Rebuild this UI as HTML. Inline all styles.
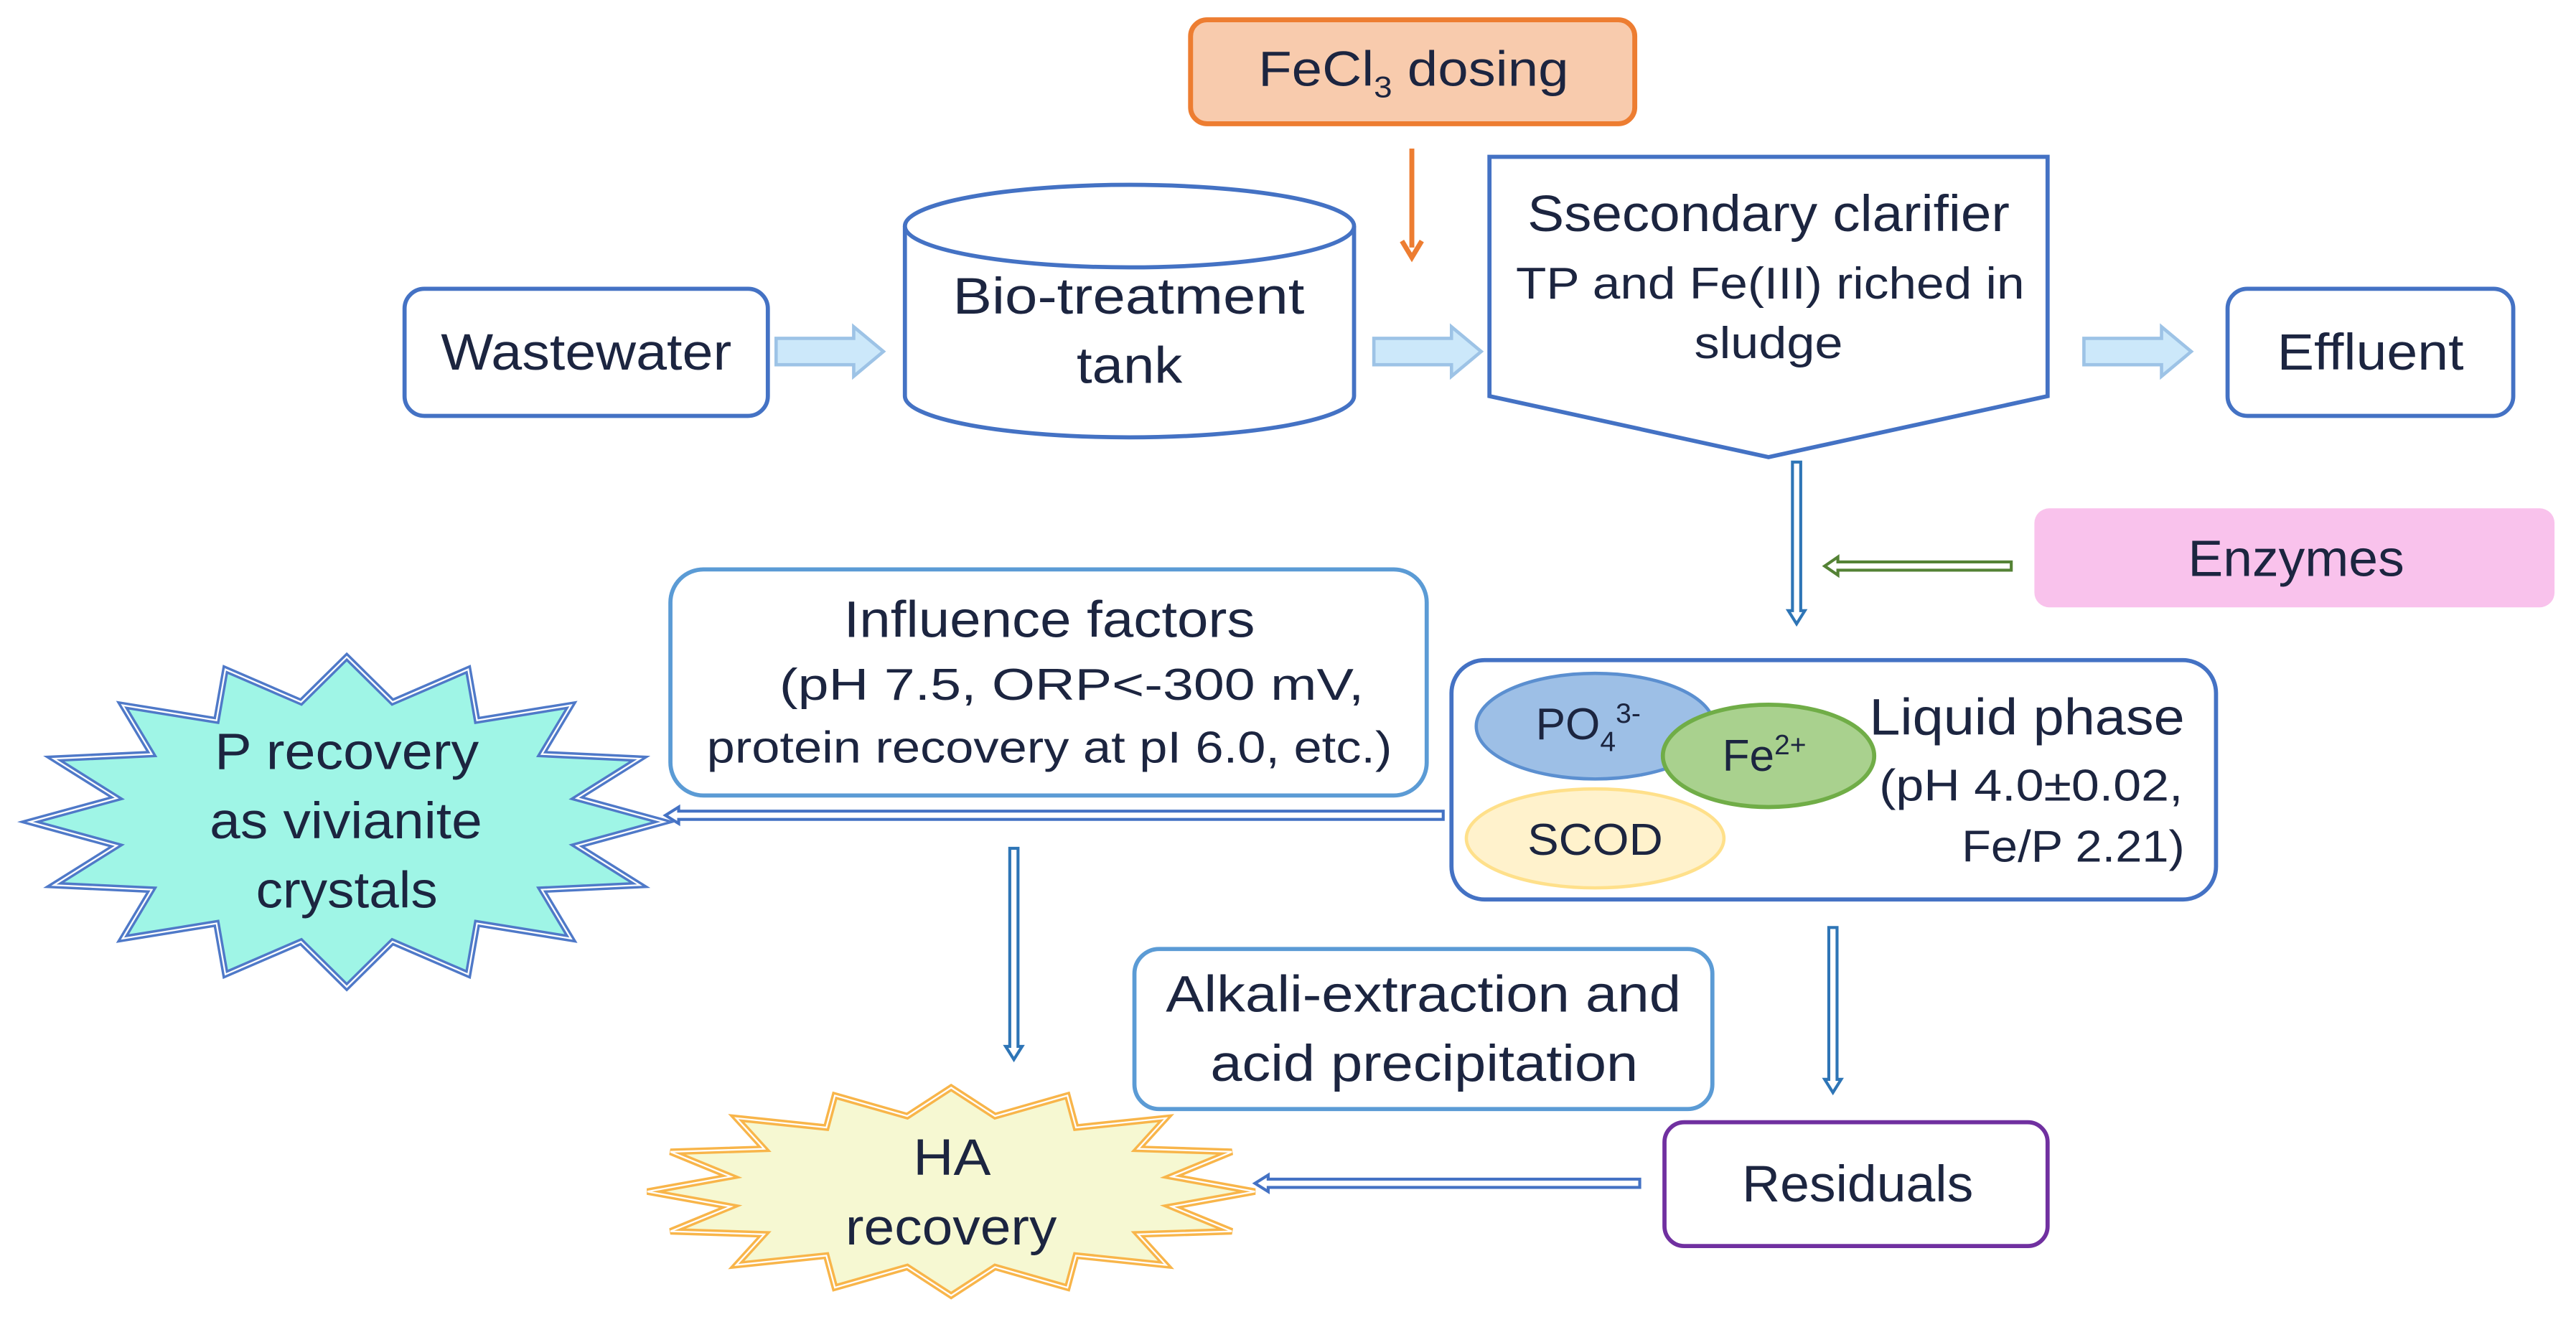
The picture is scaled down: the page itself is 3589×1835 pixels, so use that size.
<!DOCTYPE html>
<html><head><meta charset="utf-8"><style>
html,body{margin:0;padding:0;background:#fff;}
svg{display:block;}
text{font-family:"Liberation Sans",sans-serif;fill:#1c2540;}
</style></head><body>
<svg id="s" width="3589" height="1835" viewBox="0 0 1560 798" preserveAspectRatio="none" xmlns="http://www.w3.org/2000/svg">
<g id="shapes"></g>
<!-- FeCl3 -->
<rect x="721" y="12" width="269" height="63" rx="10" fill="#f8cbad" stroke="#ed7d31" stroke-width="3"/>
<text x="762" y="52" font-size="30" textLength="188" lengthAdjust="spacingAndGlyphs">FeCl<tspan font-size="18" dy="7">3</tspan><tspan dy="-7"> dosing</tspan></text>
<line x1="855" y1="90" x2="855" y2="150" stroke="#ed7d31" stroke-width="3"/>
<polyline points="849,146 855,156 861,146" fill="none" stroke="#ed7d31" stroke-width="3"/>
<!-- Wastewater -->
<rect x="245" y="175" width="220" height="77" rx="12" fill="#fff" stroke="#4472c4" stroke-width="2.5"/>
<text x="267" y="224" font-size="31" textLength="176" lengthAdjust="spacingAndGlyphs">Wastewater</text>
<!-- cylinder -->
<path d="M548,137 L548,240 A136,25 0 0 0 820,240 L820,137" fill="#fff" stroke="#4472c4" stroke-width="2.5"/>
<ellipse cx="684" cy="137" rx="136" ry="25" fill="#fff" stroke="#4472c4" stroke-width="2.5"/>
<text x="577" y="190" font-size="31" textLength="213" lengthAdjust="spacingAndGlyphs">Bio-treatment</text>
<text x="652" y="232" font-size="31" textLength="64" lengthAdjust="spacingAndGlyphs">tank</text>
<!-- clarifier -->
<polygon points="902,95 1240,95 1240,240 1071,277 902,240" fill="#fff" stroke="#4472c4" stroke-width="2.5"/>
<text x="925" y="140" font-size="31" textLength="292" lengthAdjust="spacingAndGlyphs">Ssecondary clarifier</text>
<text x="918" y="181" font-size="27" textLength="308" lengthAdjust="spacingAndGlyphs">TP and Fe(III) riched in</text>
<text x="1026" y="217" font-size="27" textLength="90" lengthAdjust="spacingAndGlyphs">sludge</text>
<!-- Effluent -->
<rect x="1349" y="175" width="173" height="77" rx="12" fill="#fff" stroke="#4472c4" stroke-width="2.5"/>
<text x="1379" y="224" font-size="31" textLength="113" lengthAdjust="spacingAndGlyphs">Effluent</text>
<!-- Enzymes -->
<rect x="1232" y="308" width="315" height="60" rx="9" fill="#f9c2ec"/>
<text x="1325" y="349" font-size="31" textLength="131" lengthAdjust="spacingAndGlyphs">Enzymes</text>
<!-- Influence -->
<rect x="406" y="345" width="458" height="137" rx="20" fill="#fff" stroke="#5b9bd5" stroke-width="2.5"/>
<text x="511" y="386" font-size="31" textLength="249" lengthAdjust="spacingAndGlyphs">Influence factors</text>
<text x="472" y="424" font-size="27" textLength="354" lengthAdjust="spacingAndGlyphs">(pH 7.5, ORP&lt;-300 mV,</text>
<text x="428" y="462" font-size="27" textLength="415" lengthAdjust="spacingAndGlyphs">protein recovery at pI 6.0, etc.)</text>
<!-- Liquid phase -->
<rect x="879" y="400" width="463" height="145" rx="20" fill="#fff" stroke="#4472c4" stroke-width="2.5"/>
<ellipse cx="966" cy="440" rx="72" ry="32" fill="#9dbfe6" stroke="#5b8fd0" stroke-width="2"/>
<ellipse cx="966" cy="508" rx="78" ry="30" fill="#fff2cc" stroke="#ffe08a" stroke-width="2"/>
<ellipse cx="1071" cy="458" rx="64" ry="31" fill="#a9d18e" stroke="#70ad47" stroke-width="2.5"/>
<text x="930" y="448" font-size="27">PO<tspan font-size="17" dy="7">4</tspan><tspan font-size="17" dy="-17">3-</tspan></text>
<text x="1043" y="467" font-size="27">Fe<tspan font-size="17" dy="-10">2+</tspan></text>
<text x="925" y="518" font-size="27" textLength="82" lengthAdjust="spacingAndGlyphs">SCOD</text>
<text x="1132" y="445" font-size="31" textLength="191" lengthAdjust="spacingAndGlyphs">Liquid phase</text>
<text x="1138" y="485" font-size="27" textLength="184" lengthAdjust="spacingAndGlyphs">(pH 4.0±0.02,</text>
<text x="1188" y="522" font-size="27" textLength="135" lengthAdjust="spacingAndGlyphs">Fe/P 2.21)</text>
<!-- Alkali -->
<rect x="687" y="575" width="350" height="97" rx="15" fill="#fff" stroke="#5b9bd5" stroke-width="2.5"/>
<text x="706" y="613" font-size="31" textLength="312" lengthAdjust="spacingAndGlyphs">Alkali-extraction and</text>
<text x="733" y="655" font-size="31" textLength="259" lengthAdjust="spacingAndGlyphs">acid precipitation</text>
<!-- Residuals -->
<rect x="1008" y="680" width="232" height="75" rx="12" fill="#fff" stroke="#7030a0" stroke-width="2.5"/>
<text x="1055" y="728" font-size="31" textLength="140" lengthAdjust="spacingAndGlyphs">Residuals</text>
<g id="stars"></g>
<g id="startext">
<text x="130" y="466" font-size="31" textLength="160" lengthAdjust="spacingAndGlyphs">P recovery</text>
<text x="127" y="508" font-size="31" textLength="165" lengthAdjust="spacingAndGlyphs">as vivianite</text>
<text x="155" y="550" font-size="31" textLength="110" lengthAdjust="spacingAndGlyphs">crystals</text>
<text x="553" y="712" font-size="31" textLength="47" lengthAdjust="spacingAndGlyphs">HA</text>
<text x="512" y="754" font-size="31" textLength="128" lengthAdjust="spacingAndGlyphs">recovery</text>
</g>
</svg>
<script>
var NS="http://www.w3.org/2000/svg";
function el(p,t,a){var e=document.createElementNS(NS,t);for(var k in a)e.setAttribute(k,a[k]);p.appendChild(e);return e;}
var g=document.getElementById('shapes'), sg=document.getElementById('stars');
// block arrows
function block(x1,x2,yc){
 var h=15,sh=8,hl=18;
 el(g,'polygon',{points:[x1,yc-sh,x2-hl,yc-sh,x2-hl,yc-h,x2,yc,x2-hl,yc+h,x2-hl,yc+sh,x1,yc+sh].join(','),fill:'#cce8fa',stroke:'#9dc3e6','stroke-width':2});
}
block(470,535,213);block(832,897,213);block(1262,1327,213);
// hollow arrows
function vdown(x,y1,y2,c){var w=2.5,hw=5,hl=8;
 el(g,'polygon',{points:[x-w,y1,x+w,y1,x+w,y2-hl,x+hw,y2-hl,x,y2,x-hw,y2-hl,x-w,y2-hl].join(','),fill:'#fff',stroke:c,'stroke-width':1.8});}
function hleft(x1,x2,y,c,w,hw){ // x1 start (right), x2 tip (left)
 var hl=8;
 el(g,'polygon',{points:[x1,y-w,x2+hl,y-w,x2+hl,y-hw,x2,y,x2+hl,y+hw,x2+hl,y+w,x1,y+w].join(','),fill:'#fff',stroke:c,'stroke-width':1.8});}
vdown(1088,280,378,'#2e75b6');
vdown(614,514,642,'#2e75b6');
vdown(1110,562,662,'#2e75b6');
hleft(1218,1105,343,'#548235',2.5,5.5);
hleft(874,403,494,'#4472c4',2.5,5);
hleft(993,760,717,'#4472c4',2.5,5);
// stars
function star(cx,cy,rx,ry,ratio,fill,stroke){
 var pts=[];for(var i=0;i<32;i++){var a=-Math.PI/2+i*Math.PI/16;var r=(i%2==0)?1:ratio;pts.push((cx+rx*r*Math.cos(a)).toFixed(1)+','+(cy+ry*r*Math.sin(a)).toFixed(1));}
 el(sg,'polygon',{points:pts.join(' '),fill:fill,stroke:stroke,'stroke-width':4,'stroke-linejoin':'miter'});
 el(sg,'polygon',{points:pts.join(' '),fill:'none',stroke:'#fff','stroke-width':1});
}
star(210,498,192,100,0.74,'#9ff5e6','#4f79c8');
star(576,722,184,63,0.74,'#f6f8d2','#f8b54a');
</script>
</body></html>
